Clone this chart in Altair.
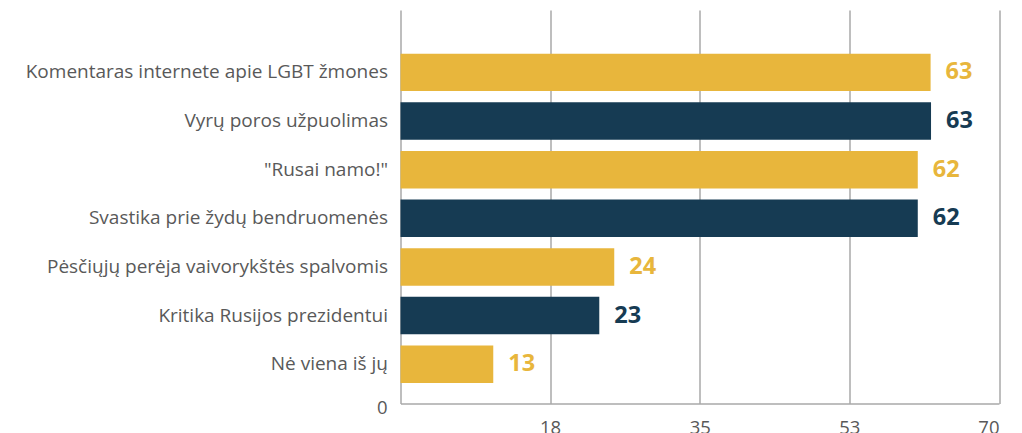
import altair as alt
import pandas as pd

categories = [
    "Komentaras internete apie LGBT žmones",
    "Vyrų poros užpuolimas",
    "\"Rusai namo!\"",
    "Svastika prie žydų bendruomenės",
    "Pėsčiųjų perėja vaivorykštės spalvomis",
    "Kritika Rusijos prezidentui",
    "Nė viena iš jų",
]
bar_values = [62.0, 62.05, 60.5, 60.5, 25.0, 23.25, 10.85]
label_values = [63, 63, 62, 62, 24, 23, 13]
groups = ["g", "n", "g", "n", "g", "n", "g"]
tick_values = [0, 17.5, 35, 52.5, 70]

GOLD = "#E8B63C"
NAVY = "#163B53"
GRAY_TXT = "#595959"
GRID = "#A8A8A8"
FONT = "Open Sans"

df = pd.DataFrame({"cat": categories, "bar": bar_values, "label": label_values, "grp": groups})

color = alt.Color("grp:N", scale=alt.Scale(domain=["g", "n"], range=[GOLD, NAVY]), legend=None)
xenc = alt.X(
    "bar:Q",
    scale=alt.Scale(domain=[0, 70], nice=False, zero=True),
    axis=alt.Axis(
        values=tick_values,
        labelExpr="datum.value == 0 ? '' : format(round(datum.value), 'd')",
        title=None,
        ticks=False,
        grid=True,
        gridColor=GRID,
        gridWidth=1.5,
        domainColor=GRID,
        domainWidth=1.5,
        labelFontSize=18.5,
        labelColor=GRAY_TXT,
        labelFont=FONT,
        labelPadding=15,
    ),
)
yenc = alt.Y(
    "cat:N",
    sort=categories,
    scale=alt.Scale(paddingInner=0.23, paddingOuter=0.66, align=0.68),
    axis=alt.Axis(
        title=None,
        ticks=False,
        domain=False,
        grid=False,
        labelFontSize=19,
        labelColor=GRAY_TXT,
        labelFont=FONT,
        labelPadding=13,
        labelLimit=500,
    ),
)

base = alt.Chart(df)
bars = base.mark_bar().encode(x=xenc, y=yenc, color=color)
texts = base.mark_text(align="left", baseline="middle", dx=15, fontSize=23.5, fontWeight="bold", font=FONT).encode(
    x="bar:Q", y=alt.Y("cat:N", sort=categories), text="label:Q", color=color
)
zero = alt.Chart(pd.DataFrame({"z": [0]})).mark_text(
    align="right", baseline="alphabetic", dx=-13, dy=10, fontSize=18.5, font=FONT, color=GRAY_TXT
).encode(x="z:Q", y=alt.value(393.5), text="z:Q")

chart = (
    alt.layer(bars, texts, zero)
    .properties(
        width=598.5,
        height=393.5,
        padding={"left": 392.5, "top": 2, "right": 15, "bottom": 30},
        autosize=alt.AutoSizeParams(type="none"),
    )
    .configure_view(stroke=None)
)

chart.save("out.html", embed_options={"renderer": "svg", "actions": False})
